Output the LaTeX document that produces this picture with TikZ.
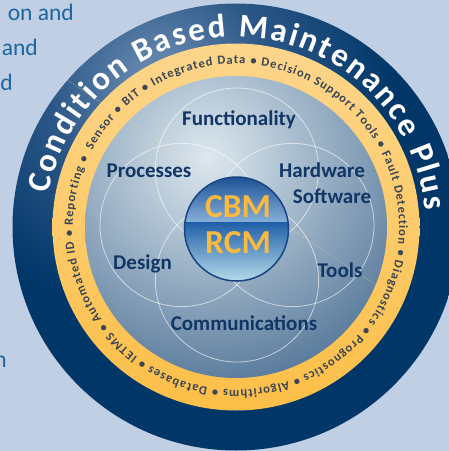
\documentclass[tikz,border=0pt]{standalone}
\usepackage{fontspec}
\setmainfont{Carlito}
\usetikzlibrary{decorations.text}
\definecolor{bgc}{HTML}{C0CFE3}
\definecolor{leftblue}{HTML}{1D65A0}
\definecolor{ringA}{HTML}{7393B8}
\definecolor{ringB}{HTML}{2C5888}
\definecolor{ringC}{HTML}{003668}
\definecolor{yelT}{HTML}{FDD68C}
\definecolor{yelB}{HTML}{FCBF47}
\definecolor{discIn}{HTML}{DDE8EF}
\definecolor{discOut}{HTML}{56789A}
\definecolor{navyT}{HTML}{113666}
\definecolor{ringTxt}{HTML}{3A4555}
\definecolor{cbmTop}{HTML}{1B4F93}
\definecolor{cbmMid}{HTML}{86B0DA}
\definecolor{cbmLow}{HTML}{1F5FA8}
\definecolor{cbmBot}{HTML}{B8DDEA}
\definecolor{cbmBorder}{HTML}{1A4480}
\definecolor{cbmText}{HTML}{FAB93F}
\pgfdeclareradialshading{ringshade}{\pgfpoint{0bp}{0bp}}{color(0bp)=(ringA); color(6.5bp)=(ringB); color(14bp)=(ringC); color(50bp)=(ringC)}
\newcommand\outerfnt{\fontsize{33}{33}\selectfont\bfseries}
\newcommand\ringfnt{\fontsize{12.5}{12.5}\selectfont\bfseries}
\tikzset{
  lefttext/.style={font=\fontsize{23.5}{23.5}\selectfont, text=leftblue, inner sep=0, anchor=base east},
  lbl/.style={font=\fontsize{21}{21}\selectfont\bfseries, text=navyT, inner sep=0, anchor=base},
  cbmlbl/.style={font=\fontsize{33.5}{33.5}\selectfont\bfseries, text=cbmText, inner sep=0, anchor=base},
  petal/.style={draw=white, draw opacity=0.6, line width=0.8pt},
}
\begin{document}
\begin{tikzpicture}[x=1pt,y=1pt]
\useasboundingbox (0,0) rectangle (449,-451);
\clip (0,0) rectangle (449,-451);
\fill[bgc] (0,0) rectangle (449,-451);
% cut-off paragraph text at left
\node[lefttext] (t1) at (74,-20.7) {on and};
\node[lefttext] (t2) at (38,-55) {and};
\node[lefttext] (t3) at (13,-90) {d};
\node[lefttext] (t4) at (7,-367) {n};
% rings
\coordinate (C) at (236,-227);
\begin{scope}
  \clip (C) circle (223.5);
  \shade[shading=ringshade] (160,-85) circle (420);
\end{scope}
\shade[top color=yelT, bottom color=yelB] (C) circle (183.5);
\begin{scope}
  \clip (C) circle (151);
  \shade[inner color=discIn, outer color=discOut] (207,-157) circle (235);
\end{scope}
% faint diagonal line
\draw[draw=yelT, draw opacity=0.35, line width=0.5pt] (67,-80) -- (403,-303);
% petals
\draw[petal] (237,-169.6) circle (81.6);
\draw[petal] (237,-280.4) circle (81.6);
\draw[petal] (181.6,-225) circle (81.6);
\draw[petal] (292.4,-225) circle (81.6);
% outer ring text
\path[decorate, decoration={text along path, text={|\outerfnt|Condition Based Maintenance Plus}, text align=fit to path, text color=white}]
  (C) ++(170:190) arc[start angle=170, end angle=5, radius=190];
% yellow ring text
\path[decorate, decoration={text along path, text={|\ringfnt|Sensor • BIT • Integrated Data • Decision Support Tools • Fault Detection • Diagnostics • Prognostics • Algorithms • Databases • IETMS • Automated ID • Reporting •}, text align=fit to path, text color=ringTxt}]
  (C) ++(152:163) arc[start angle=152, end angle=-205, radius=163];
% labels
\node[lbl] (fun) at (239,-125) {Functionality};
\node[lbl] (pro) at (149,-177) {Processes};
\node[lbl] (hw) at (322,-177) {Hardware};
\node[lbl] (sw) at (332,-203) {Software};
\node[lbl] (des) at (142.5,-269) {Design};
\node[lbl] (too) at (340,-277) {Tools};
\node[lbl] (com) at (244,-330) {Communications};
% CBM circle
\coordinate (K) at (236.5,-229);
\begin{scope}
  \clip (K) circle (52);
  \shade[top color=cbmTop, middle color=cbmTop!70!cbmMid, bottom color=cbmMid] (184,-176) rectangle (289,-222);
  \shade[top color=cbmLow, bottom color=cbmBot] (184,-222) rectangle (289,-282);
\end{scope}
\draw[cbmBorder, line width=1.5pt] (K) circle (52);
\node[cbmlbl] (cbm) at (238,-217.5) {CBM};
\node[cbmlbl] (rcm) at (238,-253) {RCM};
\end{tikzpicture}
\end{document}
